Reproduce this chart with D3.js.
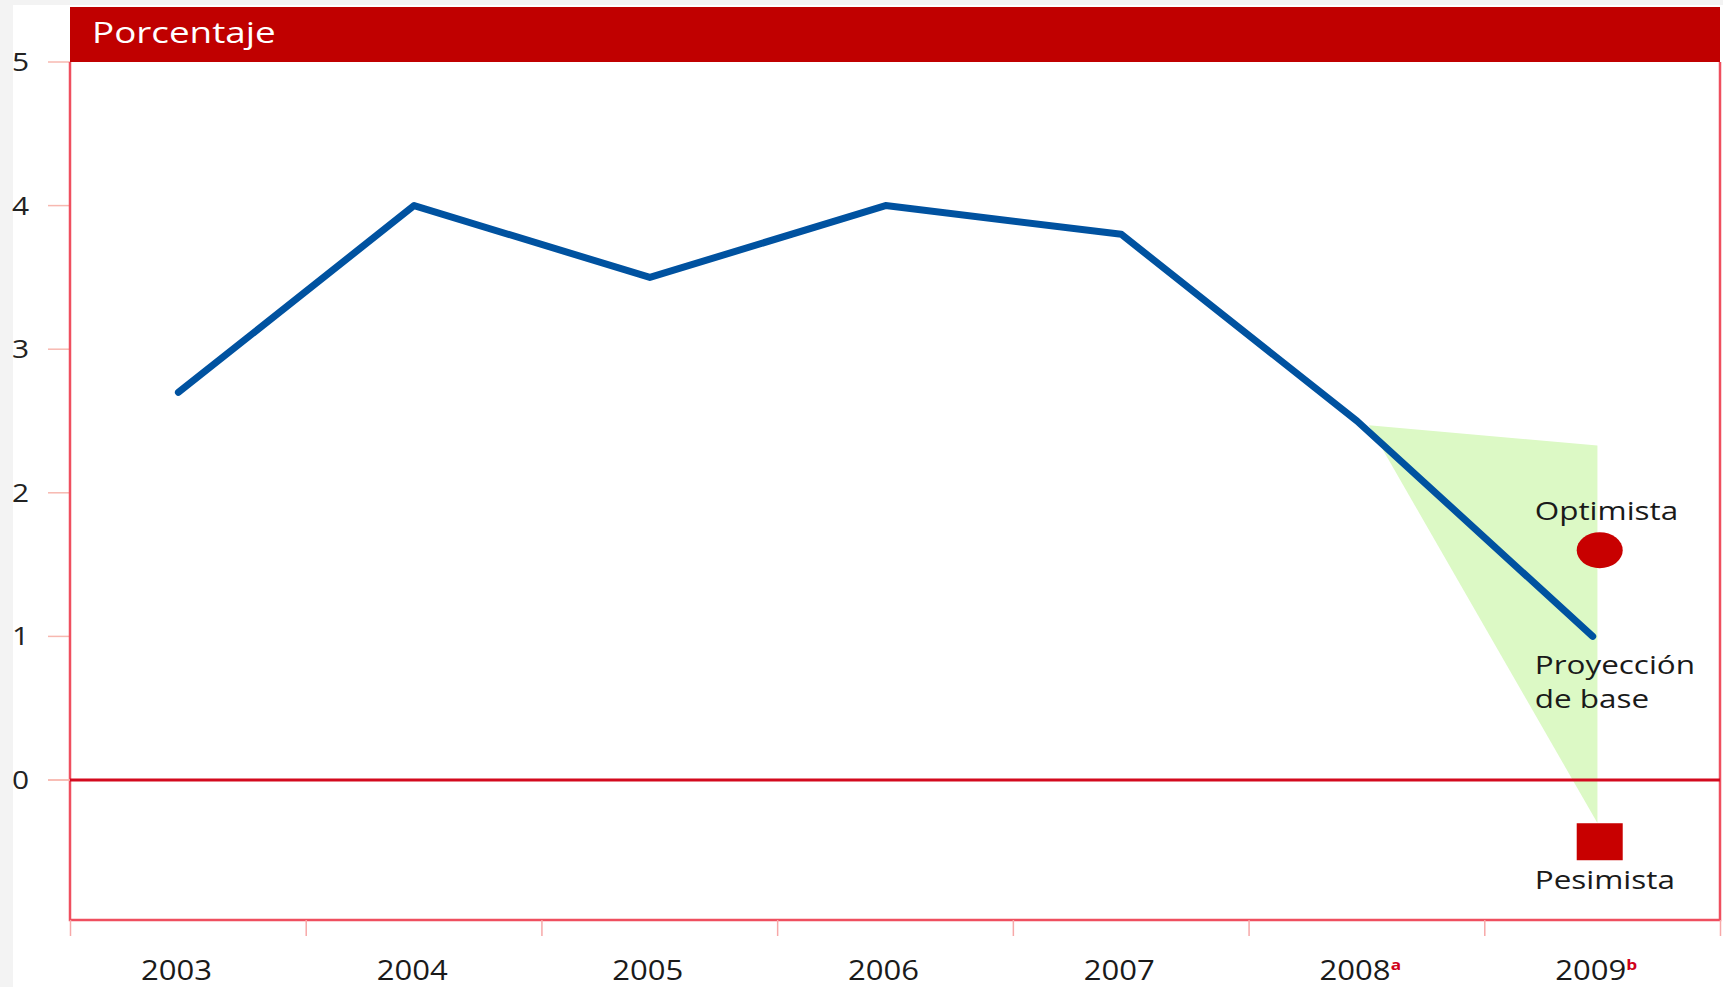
<!DOCTYPE html>
<html>
<head>
<meta charset="utf-8">
<script src="https://cdn.jsdelivr.net/npm/d3@7"></script>
<style>
  body { margin: 0; background: #f3f3f3; }
  text { font-family: "Open Sans", sans-serif; }
</style>
</head>
<body>
<div id="chart"></div>
<script>
// data
var years = [2003, 2004, 2005, 2006, 2007, 2008, 2009];
var yearNotes = ["", "", "", "", "", "a", "b"];
var values = [2.7, 4.0, 3.5, 4.0, 3.8, 2.5, 1.0];
var fanYears = [2008.05, 2009.02];
var fanHigh = [2.47, 2.33];
var fanLow = [2.47, -0.3];
var optimista = 1.6;
var pesimista = -0.43;
var yTicks = [0, 1, 2, 3, 4, 5];

var W = 1723, H = 987;
var stretch = 1.15; // the original is drawn a bit wide

var svg = d3.select("#chart")
  .append("svg")
  .attr("width", W)
  .attr("height", H);

// white page
svg.append("rect")
  .attr("x", 13).attr("y", 5)
  .attr("width", W - 13).attr("height", H - 5)
  .attr("fill", "white");

// scales
var x = d3.scaleLinear()
  .domain([2002.54, 2009.54])
  .range([70, 1720]);

var y = d3.scaleLinear()
  .domain([-0.975, 5])
  .range([920, 62]);

// header bar
svg.append("rect")
  .attr("x", x.range()[0])
  .attr("y", 7)
  .attr("width", x.range()[1] - x.range()[0])
  .attr("height", y(5) - 7)
  .attr("fill", "#c00000");

svg.append("text")
  .attr("transform", "translate(92,43) scale(" + (stretch + 0.12) + ",1)")
  .text("Porcentaje")
  .attr("fill", "white")
  .style("font-size", "29px");

// Y axis ticks (light)
svg.append("g")
  .selectAll("line")
  .data(yTicks)
  .enter()
  .append("line")
    .attr("x1", 48).attr("x2", x.range()[0])
    .attr("y1", function(d){ return y(d) })
    .attr("y2", function(d){ return y(d) })
    .attr("stroke", "#f7b8b0")
    .attr("stroke-width", 1.5);

svg.append("g")
  .selectAll("text")
  .data(yTicks)
  .enter()
  .append("text")
    .attr("transform", function(d){ return "translate(12," + (y(d) + 9) + ") scale(" + stretch + ",1)" })
    .text(function(d){ return d })
    .attr("fill", "#222")
    .style("font-size", "26px");

// fan of scenarios
var fan = fanYears.map(function(d, i){ return {year: d, hi: fanHigh[i], lo: fanLow[i]} });
svg.append("path")
  .datum(fan)
  .attr("fill", "#dcf9c5")
  .attr("d", d3.area()
    .x(function(d){ return x(d.year) })
    .y0(function(d){ return y(d.lo) })
    .y1(function(d){ return y(d.hi) }));

// plot frame
svg.append("path")
  .attr("d", "M" + x.range()[0] + "," + y(5) + "V" + y.range()[0] + "H" + x.range()[1] + "V" + y(5))
  .attr("fill", "none")
  .attr("stroke", "#ef4f5f")
  .attr("stroke-width", 2.5);

// X axis ticks at band edges
var edges = d3.range(0, years.length + 1).map(function(i){ return x.domain()[0] + i });
svg.append("g")
  .attr("transform", "translate(0," + y.range()[0] + ")")
  .call(d3.axisBottom(x).tickValues(edges).tickFormat("").tickSize(16).tickSizeOuter(0))
  .call(function(g){ g.select(".domain").remove() })
  .selectAll("line")
    .attr("stroke", "#f7a8a8")
    .attr("stroke-width", 1.5);

// year labels
var labels = svg.append("g")
  .selectAll("g")
  .data(years)
  .enter()
  .append("g")
    .attr("transform", function(d){ return "translate(" + (x(d) - 2) + ",980) scale(" + stretch + ",1)" });

labels.append("text")
  .attr("text-anchor", "middle")
  .text(function(d){ return d })
  .attr("fill", "#1a1a1a")
  .style("font-size", "27px");

labels.append("text")
  .attr("x", 31)
  .attr("y", -10)
  .text(function(d, i){ return yearNotes[i] })
  .attr("fill", "#d0021b")
  .style("font-size", "15px")
  .style("font-weight", "bold");

// zero line
svg.append("line")
  .attr("x1", 48).attr("x2", x.range()[1])
  .attr("y1", y(0)).attr("y2", y(0))
  .attr("stroke", "#f7b8b0")
  .attr("stroke-width", 1.5);
svg.append("line")
  .attr("x1", x.range()[0]).attr("x2", x.range()[1])
  .attr("y1", y(0)).attr("y2", y(0))
  .attr("stroke", "#d30a1e")
  .attr("stroke-width", 3);

// main line
svg.append("path")
  .datum(values)
  .attr("fill", "none")
  .attr("stroke", "#0052a0")
  .attr("stroke-width", 7)
  .attr("stroke-linecap", "round")
  .attr("stroke-linejoin", "round")
  .attr("d", d3.line()
    .x(function(d, i){ return x(years[i]) })
    .y(function(d){ return y(d) }));

// scenario markers
var last = years[years.length - 1];
svg.append("ellipse")
  .attr("cx", x(last) + 7)
  .attr("cy", y(optimista))
  .attr("rx", 23)
  .attr("ry", 18)
  .attr("fill", "#c80000");

svg.append("rect")
  .attr("x", x(last) + 7 - 23)
  .attr("y", y(pesimista) - 18.5)
  .attr("width", 46)
  .attr("height", 37)
  .attr("fill", "#c80000");

// scenario labels
var notes = [
  {t: "Optimista", v: optimista, dy: -30},
  {t: "Proyección", v: values[values.length - 1], dy: 38},
  {t: "de base", v: values[values.length - 1], dy: 72},
  {t: "Pesimista", v: pesimista, dy: 47}
];
svg.append("g")
  .selectAll("text")
  .data(notes)
  .enter()
  .append("text")
    .attr("transform", function(d){ return "translate(" + (x(last) - 58) + "," + (y(d.v) + d.dy) + ") scale(" + (stretch + 0.06) + ",1)" })
    .text(function(d){ return d.t })
    .attr("fill", "#1a1a1a")
    .style("font-size", "26px");
</script>
</body>
</html>
